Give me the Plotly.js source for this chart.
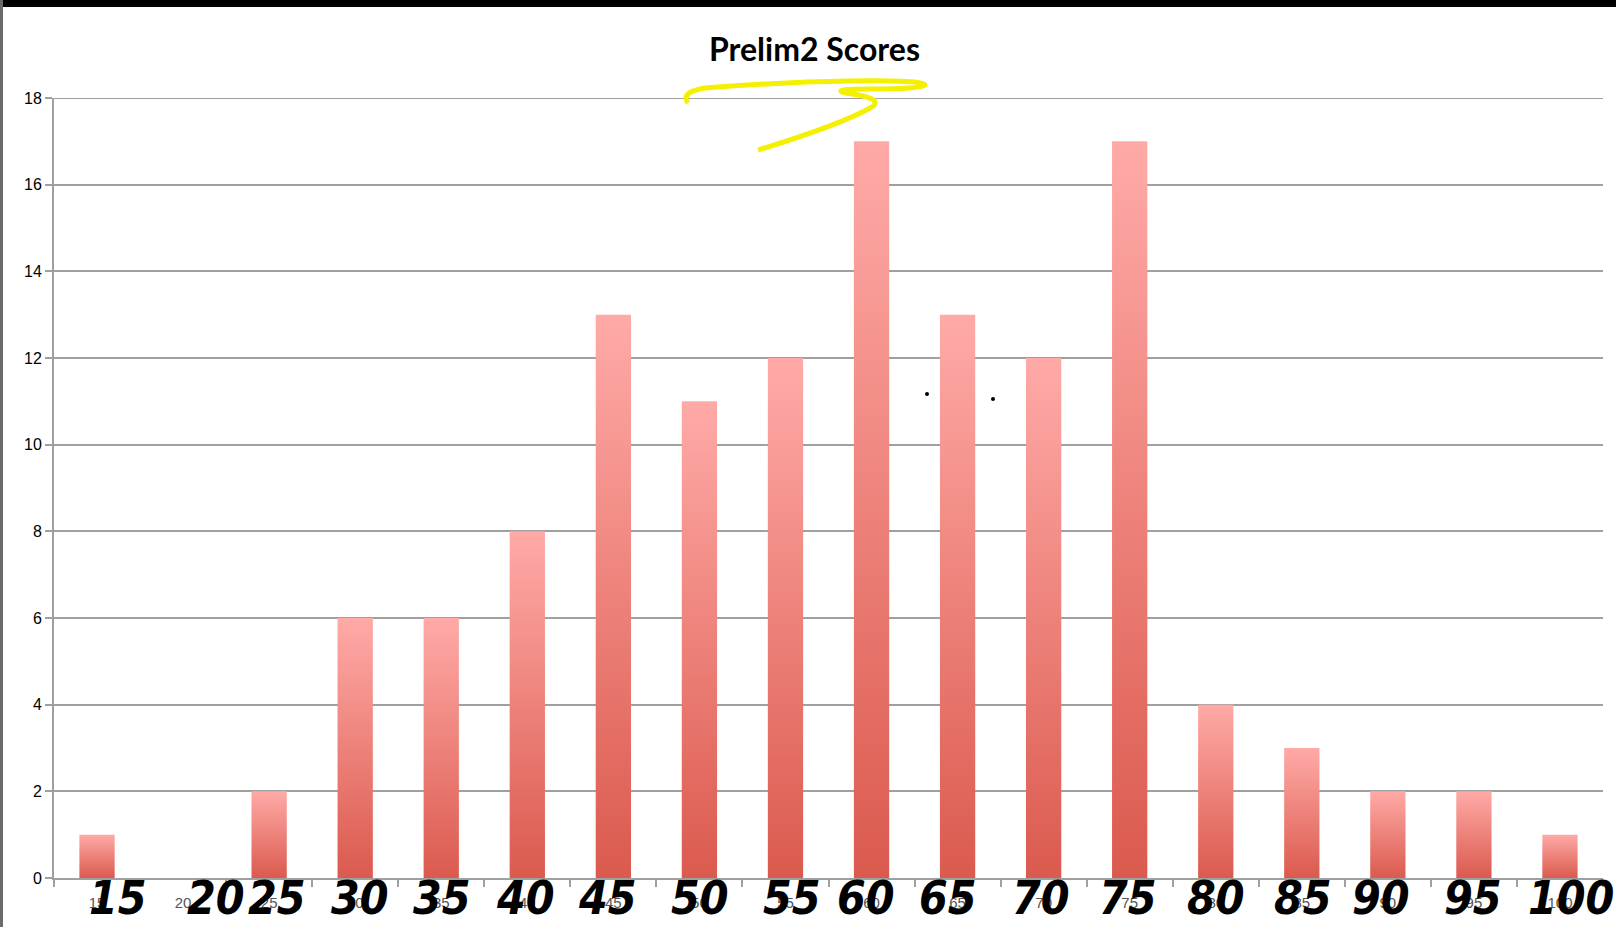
<!DOCTYPE html>
<html>
<head>
<meta charset="utf-8">
<script src="https://cdn.plot.ly/plotly-3.0.1.min.js"></script>
<style>
  html, body { margin: 0; padding: 0; background: #fff; }
  #wrap { position: relative; width: 1616px; height: 927px; overflow: hidden; }
  #chart { width: 1616px; height: 927px; }
  #topbar { position: absolute; left: 0; top: 0; width: 1616px; height: 7px; background: #000; }
  #leftbar { position: absolute; left: 0; top: 0; width: 3px; height: 927px; background: #6a6a6a; }
</style>
</head>
<body>
<div id="wrap">
  <div id="chart"></div>
  <div id="topbar"></div>
  <div id="leftbar"></div>
</div>
<script>
// ---- data ----
const categories = ["15","20","25","30","35","40","45","50","55","60","65","70","75","80","85","90","95","100"];
const counts = [1, 0, 2, 6, 6, 8, 13, 11, 12, 17, 13, 12, 17, 4, 3, 2, 2, 1];
const yTicks = [0, 2, 4, 6, 8, 10, 12, 14, 16, 18];
const chartTitle = "Prelim2 Scores";
// handwritten labels written under the axis
const handLabels = ["15","20","25","30","35","40","45","50","55","60","65","70","75","80","85","90","95","100"];
// horizontal offsets (px) of the handwritten labels from their category centre (styling)
const handShift = [21, 33, 8, 5, 1, -2, -6, 1, 7, -6, -10, -3, -2, 0, 1, -7, -1, 11];

// ---- layout geometry helpers (pixel -> paper) ----
const W = 1616, H = 927;
const M = {l: 54, r: 13, t: 98, b: 49};
const PW = W - M.l - M.r, PH = H - M.t - M.b;
function px(x) { return (x - M.l) / PW; }
function py(y) { return (H - M.b - y) / PH; }

// yellow highlighter scribble under the title (smooth quadratic segments)
const scribble = [
  ["M", 688, 103], ["Q", 680, 92, 705, 88], ["Q", 780, 82, 850, 81], ["Q", 925, 80, 925, 85],
  ["Q", 920, 89, 870, 89], ["Q", 830, 89, 845, 93], ["Q", 885, 98, 872, 107],
  ["Q", 840, 125, 758, 150]
];
const scribblePath = scribble.map(seg => {
  const c = seg[0], v = seg.slice(1);
  const pts = [];
  for (let i = 0; i < v.length; i += 2) pts.push(px(v[i]).toFixed(4) + "," + py(v[i + 1]).toFixed(4));
  return c + pts.join(" ");
}).join(" ");

// two stray pen dots
const dots = [[927, 394], [993, 399]];

const trace = {
  type: "bar",
  x: categories,
  y: counts,
  marker: { color: "#e97a72", line: { width: 0 } },
  hoverinfo: "x+y"
};

const annotations = handLabels.map((t, i) => ({
  x: i, y: py(926), xref: "x", yref: "paper",
  yanchor: "bottom", xshift: handShift[i],
  text: t, showarrow: false, borderpad: 0,
  font: { family: "DejaVu Sans Condensed", size: 46, color: "#000", weight: 700, style: "italic" }
}));

const shapes = [
  { type: "line", xref: "paper", yref: "y", x0: 0, x1: 1, y0: yTicks[yTicks.length - 1], y1: yTicks[yTicks.length - 1],
    line: { color: "#a0a0a0", width: 2 }, layer: "below" },
  { type: "path", xref: "paper", yref: "paper", path: scribblePath,
    line: { color: "#f5f000", width: 5 }, layer: "above" }
].concat(dots.map(d => ({
  type: "circle", xref: "paper", yref: "paper",
  x0: px(d[0] - 2), x1: px(d[0] + 2), y0: py(d[1] + 2), y1: py(d[1] - 2),
  fillcolor: "#000", line: { width: 0 }, layer: "above"
})));

const layout = {
  width: W, height: H,
  margin: M,
  paper_bgcolor: "#ffffff",
  plot_bgcolor: "#ffffff",
  showlegend: false,
  bargap: 0.59,
  title: {
    text: "<b>" + chartTitle + "</b>",
    x: 0.504, xanchor: "center", y: 1 - 50 / H, yanchor: "middle",
    font: { family: "Lato", size: 32, color: "#000" }
  },
  xaxis: {
    type: "category",
    range: [-0.5, categories.length - 0.5],
    autorange: false,
    showgrid: false,
    showline: true, linecolor: "#a0a0a0", linewidth: 2,
    ticks: "outside", tickson: "boundaries", ticklen: 7, tickcolor: "#a0a0a0", tickwidth: 2,
    tickangle: 0,
    ticklabelstandoff: 10,
    tickfont: { family: "Liberation Sans", size: 15, color: "#555" },
    zeroline: false,
    fixedrange: true
  },
  yaxis: {
    range: [0, 18],
    autorange: false,
    tickvals: yTicks,
    showgrid: true, gridcolor: "#a0a0a0", gridwidth: 2,
    showline: true, linecolor: "#a0a0a0", linewidth: 2,
    ticks: "outside", ticklen: 7, tickcolor: "#a0a0a0", tickwidth: 2,
    tickfont: { family: "Liberation Sans", size: 16, color: "#000" },
    zeroline: false,
    fixedrange: true
  },
  shapes: shapes,
  annotations: annotations
};

Plotly.newPlot("chart", [trace], layout, { displayModeBar: false, staticPlot: true }).then(gd => {
  const svgNS = "http://www.w3.org/2000/svg";
  const defs = gd.querySelector(".main-svg defs");
  const grad = document.createElementNS(svgNS, "linearGradient");
  grad.setAttribute("id", "barGrad");
  grad.setAttribute("x1", "0"); grad.setAttribute("y1", "0");
  grad.setAttribute("x2", "0"); grad.setAttribute("y2", "1");
  [["0", "#ffaaa7"], ["1", "#db5a4e"]].forEach(([o, c]) => {
    const s = document.createElementNS(svgNS, "stop");
    s.setAttribute("offset", o); s.setAttribute("stop-color", c);
    grad.appendChild(s);
  });
  defs.appendChild(grad);
  gd.querySelectorAll(".bars path").forEach(p => { p.style.fill = "url(#barGrad)"; });
});
</script>
</body>
</html>
